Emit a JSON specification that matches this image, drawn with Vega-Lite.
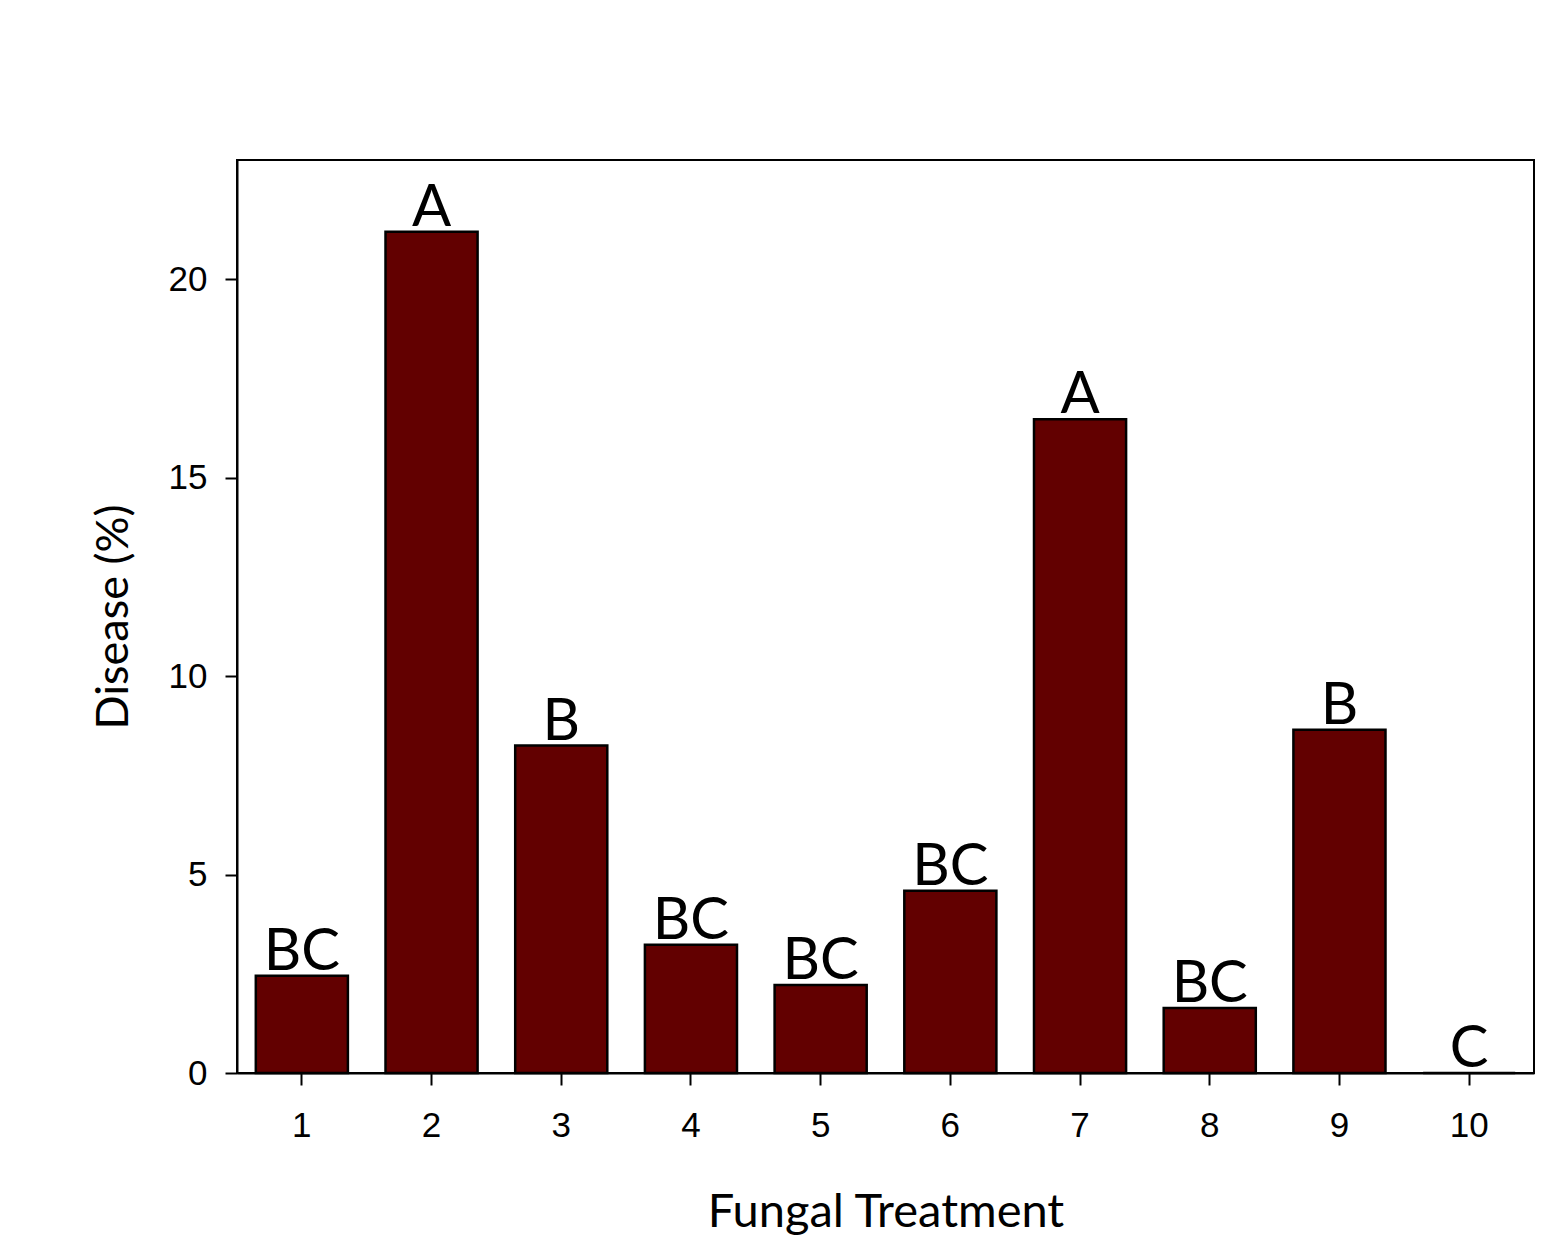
{
  "$schema": "https://vega.github.io/schema/vega-lite/v6.json",
  "width": 1297,
  "height": 913,
  "autosize": {"type": "none"},
  "padding": {"left": 237, "top": 160, "right": 28, "bottom": 163},
  "background": "white",
  "config": {
    "view": {"stroke": "black", "strokeWidth": 2},
    "axis": {"grid": false, "domainColor": "black", "domainWidth": 2, "tickColor": "black", "tickWidth": 2, "tickSize": 12, "labelColor": "black", "titleColor": "black", "labelFont": "Liberation Sans", "labelFontSize": 35, "titleFont": "Lato", "titleFontWeight": "normal"}
  },
  "data": {
    "values": [
      {"treatment": 1, "disease": 2.45, "group": "BC"},
      {"treatment": 2, "disease": 21.19, "group": "A"},
      {"treatment": 3, "disease": 8.25, "group": "B"},
      {"treatment": 4, "disease": 3.23, "group": "BC"},
      {"treatment": 5, "disease": 2.22, "group": "BC"},
      {"treatment": 6, "disease": 4.59, "group": "BC"},
      {"treatment": 7, "disease": 16.47, "group": "A"},
      {"treatment": 8, "disease": 1.64, "group": "BC"},
      {"treatment": 9, "disease": 8.65, "group": "B"},
      {"treatment": 10, "disease": 0, "group": "C"}
    ]
  },
  "encoding": {
    "x": {
      "field": "treatment", "type": "ordinal", "sort": "ascending",
      "scale": {"paddingInner": 0.29, "paddingOuter": 0.145},
      "axis": {"title": "Fungal Treatment", "labelAngle": 0, "labelPadding": 23, "titleFontSize": 47, "titlePadding": 46}
    },
    "y": {
      "field": "disease", "type": "quantitative",
      "scale": {"domain": [0, 23], "nice": false, "zero": true},
      "axis": {"title": "Disease (%)", "values": [0, 5, 10, 15, 20], "labelPadding": 18, "titleFontSize": 45, "titlePadding": 32}
    }
  },
  "layer": [
    {
      "mark": {"type": "bar", "fill": "#620000", "stroke": "black", "strokeWidth": 2.5}
    },
    {
      "mark": {"type": "text", "font": "Lato", "fontSize": 58, "baseline": "alphabetic", "dy": -6, "color": "black"},
      "encoding": {"text": {"field": "group"}}
    }
  ]
}
